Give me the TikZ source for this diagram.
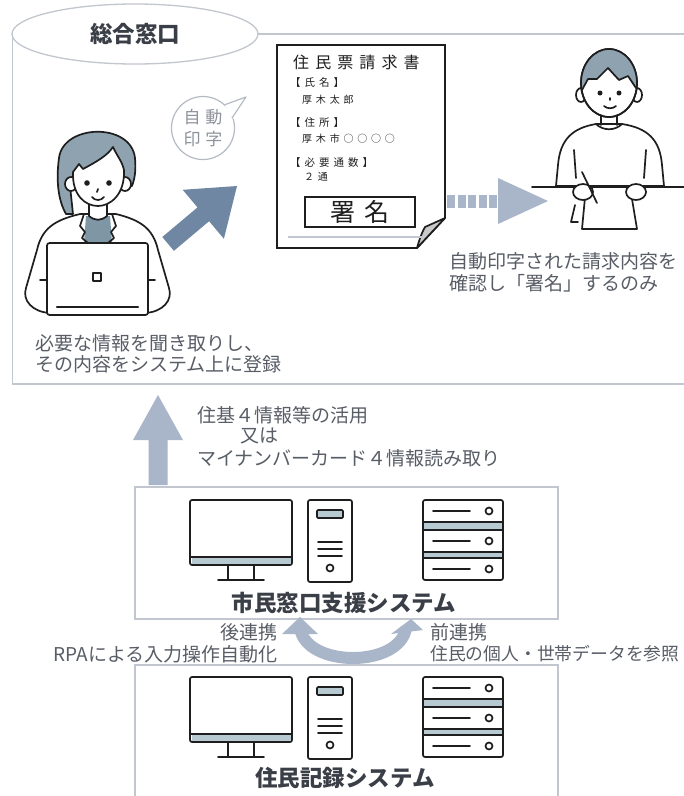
\documentclass[tikz,border=0pt]{standalone}
\usepackage{fontspec}
\setmainfont{Noto Sans CJK JP}
\newfontfamily\formfont[LetterSpace=38]{Noto Sans CJK JP}
\newfontfamily\bubblefont[LetterSpace=28]{Noto Sans CJK JP}
\usetikzlibrary{calc,shapes.geometric}

\definecolor{frame}{HTML}{C2C6CE}
\definecolor{txt}{HTML}{585D66}
\definecolor{labeltxt}{HTML}{3A3E46}
\definecolor{lightarrow}{HTML}{A9B5C9}
\definecolor{darkarrow}{HTML}{6F87A3}
\definecolor{hair}{HTML}{8EA2AF}
\definecolor{shirt}{HTML}{7F97A5}
\definecolor{band}{HTML}{B7CAD2}
\definecolor{bubble}{HTML}{B5BAC2}
\definecolor{bubbletxt}{HTML}{8C929B}
\definecolor{ink}{HTML}{1E1E1E}
\definecolor{flap}{HTML}{C9C9C9}

\tikzset{
  frameline/.style={draw=frame, line width=1.3},
  desc/.style={text=txt, font=\fontsize{19}{21.5}\selectfont, inner sep=0, align=left},
  syslabel/.style={text=labeltxt, font=\fontsize{22.5}{24}\selectfont\bfseries, inner sep=0},
  lineart/.style={draw=ink, line width=1.7, line join=round, line cap=round},
  formtext/.style={inner sep=0, anchor=west, text=ink},
  sysicons/.pic={
    % monitor
    \filldraw[lineart, fill=white, rounded corners=2] (0,0) rectangle (102,65);
    \fill[band] (1.5,57) rectangle (100.5,63.5);
    \draw[lineart] (0,57) -- (102,57);
    \draw[lineart] (38,65) -- (38,80) (64,65) -- (64,80) (28,80) -- (74,80);
    % tower
    \draw[lineart, rounded corners=2] (118,0) rectangle (162,82);
    \filldraw[lineart, fill=band, rounded corners=1] (127,10) rectangle (153,18);
    \draw[lineart] (128,42) -- (152,42) (128,49) -- (152,49) (128,56) -- (152,56);
    \draw[lineart] (140,68) circle (3.5);
    % server rack
    \draw[lineart, rounded corners=2] (233,0) rectangle (313,80);
    \filldraw[lineart, fill=band] (233,22) rectangle (313,30);
    \filldraw[lineart, fill=band] (233,52) rectangle (313,58);
    \foreach \yy in {11,41,69}{
      \draw[lineart] (243,\yy) -- (280,\yy);
      \draw[lineart] (299,\yy) circle (3.5);
    }
  }
}

\begin{document}
\begin{tikzpicture}[x=1pt, y=-1pt]
\useasboundingbox (0,0) rectangle (684,796);
\fill[white] (0,0) rectangle (684,796);

% ---------- counter panel ----------
\node[frameline, minimum width=690, minimum height=350, inner sep=0] (panel) at (357.5,209) {};
\node[frameline, fill=white, ellipse, minimum width=246, minimum height=60, inner sep=0] (title) at (135,34) {};
\node[syslabel] at (title) {総合窓口};

% ---------- clerk with laptop ----------
\filldraw[lineart, fill=white] (80,214) .. controls (55,220) and (42,228) .. (37,250) -- (26,288) .. controls (22,300) and (32,312) .. (50,313) -- (145,313) .. controls (163,312) and (173,300) .. (169,288) -- (158,250) .. controls (153,228) and (140,220) .. (116,214) -- cycle;
\fill[shirt] (86,216) -- (110,216) -- (112,243) -- (84,243) -- cycle;
\draw[lineart] (84,214) -- (80,226) -- (85,232) -- (82,238) -- (88,243);
\draw[lineart] (112,214) -- (116,226) -- (111,232) -- (114,238) -- (108,243);
\filldraw[lineart, fill=white] (89,203) -- (89,216) .. controls (95,221) and (101,221) .. (107,216) -- (107,203);
\filldraw[lineart, fill=hair] (66,214) .. controls (58,200) and (56,180) .. (59,158) .. controls (63,124) and (131,122) .. (135,158) .. controls (136,170) and (135,178) .. (132,186) -- (70,186) -- (73,214) -- cycle;
\filldraw[lineart, fill=white] (71,184) ellipse (6 and 7);
\filldraw[lineart, fill=white] (125,184) ellipse (6 and 7);
\filldraw[lineart, fill=white] (73,172) -- (79,164) -- (83,169) .. controls (96,162) and (107,156) .. (113,147) .. controls (117,156) and (122,161) .. (124,170) .. controls (125,195) and (110,206) .. (98,206) .. controls (85,206) and (72,195) .. (73,172) -- cycle;
\fill[ink] (87,183) circle (2.8) (109,183) circle (2.8);
\draw[lineart] (98,189) -- (97,192);
\draw[lineart] (92,197) .. controls (95,201) and (101,201) .. (104,197);
\filldraw[lineart, fill=white, rounded corners=2.5] (47,243) rectangle (148,315);
\draw[lineart] (93,273) rectangle (101,281);
\draw[lineart, line width=2.3] (57,307) -- (138,307);
\draw[lineart] (40,280) -- (47,280) (148,280) -- (155,280);

\node[desc, anchor=west] (clerknote) at (35,354) {必要な情報を聞き取りし、\\その内容をシステム上に登録};

% ---------- speech bubble ----------
\node[draw=bubble, line width=1.2, fill=white, ellipse, minimum width=63, minimum height=63, inner sep=0] (bubble) at (203,128) {};
\fill[white] (224,104) -- (246,97) -- (233,119) -- cycle;
\draw[bubble, line width=1.2, line join=round] (224,105) -- (246,97) -- (232,118);
\node[text=bubbletxt, inner sep=0, align=center, font=\bubblefont\fontsize{17}{22}\selectfont] at (bubble) {自動\\印字};

% ---------- forward arrow ----------
\coordinate (fwdtail) at (168,244);
\coordinate (fwdtip) at (237,186);
\fill[darkarrow] (162.3,237.0) -- (197.5,207.4) -- (182.7,189.8) -- (fwdtip) -- (223.9,238.8) -- (209.1,221.2) -- (173.9,250.8) -- cycle;

% ---------- request form ----------
\filldraw[lineart, fill=white, line join=miter] (277,45) -- (445,45) -- (445,218) -- (417,248) -- (277,248) -- cycle;
\filldraw[lineart, fill=flap] (445,218) -- (425,227) .. controls (421,234) and (419,241) .. (417,248) -- cycle;
\draw[frame, line width=1.2] (288,237) -- (423,237);
\node[formtext, font=\formfont\fontsize{16}{17}\selectfont] at (293,62) {住民票請求書};
\node[formtext, font=\formfont\fontsize{10.5}{11}\selectfont] at (290,83) {【氏名】};
\node[formtext, font=\formfont\fontsize{10}{11}\selectfont] at (302,100) {厚木太郎};
\node[formtext, font=\formfont\fontsize{10.5}{11}\selectfont] at (290,123) {【住所】};
\node[formtext, font=\formfont\fontsize{10}{11}\selectfont] at (302,139) {厚木市○○○○};
\node[formtext, font=\formfont\fontsize{10.5}{11}\selectfont] at (290,163) {【必要通数】};
\node[formtext, font=\formfont\fontsize{10}{11}\selectfont] at (304,177) {２通};
\node[draw=ink, line width=1.7, minimum width=110, minimum height=30, inner sep=0] (sign) at (360,212) {};
\node[inner sep=0, text=ink, font=\formfont\fontsize{25}{26}\selectfont] at (sign) {署名};

% ---------- hand-over arrow ----------
\coordinate (handtip) at (548,201);
\foreach \i in {0,...,4}{
  \fill[lightarrow] ({447+\i*10.5},195) rectangle ({455+\i*10.5},208);
}
\fill[lightarrow] (498,178) -- (handtip) -- (498,224) -- cycle;

% ---------- resident signing ----------
\filldraw[lineart, fill=white] (596,124) .. controls (572,128) and (560,140) .. (558,165) -- (556,186) -- (664,186) -- (662,165) .. controls (660,140) and (648,128) .. (622,124) -- cycle;
\draw[lineart] (574,150) -- (576,178) (646,150) -- (644,178);
\draw[lineart] (596,124) .. controls (603,131) and (615,131) .. (622,124);
\draw[lineart] (601,113) -- (601,125) (617,113) -- (617,125);
\filldraw[lineart, fill=white] (581,95) ellipse (5 and 7) (637,95) ellipse (5 and 7);
\filldraw[lineart, fill=white] (609,83) ellipse (28 and 34);
\begin{scope}
  \clip (609,83) ellipse (28 and 34);
  \fill[hair] (575,45) -- (645,45) -- (645,90) -- (634,86) -- (628,76) -- (619,80) -- (608,68) -- (597,79) -- (588,79) -- (581,92) -- (575,92) -- cycle;
\end{scope}
\draw[lineart] (582,90) -- (588,79) -- (597,79) -- (608,68) -- (619,80) -- (628,76) -- (636,88);
\draw[lineart] (609,83) ellipse (28 and 34);
\fill[ink] (600,93) circle (2.5) (619,93) circle (2.5);
\draw[lineart] (610,98) -- (610,100);
\draw[lineart] (604,106) .. controls (607,109) and (613,109) .. (616,106);
\draw[lineart] (532,187) -- (684,187);
\filldraw[lineart, fill=white] (586,187) -- (630,187) -- (637,229) -- (582,229) -- cycle;
\filldraw[lineart, fill=white] (583,192) ellipse (10 and 8);
\filldraw[lineart, fill=white] (636,192) ellipse (10 and 8);
\draw[lineart] (582,172) -- (597,203);
\draw[lineart] (575,205) -- (571,222) -- (578,222);

\node[desc, anchor=west] (signnote) at (449,272.5) {自動印字された請求内容を\\確認し「署名」するのみ};

% ---------- support system ----------
\node[frameline, minimum width=423, minimum height=132, inner sep=0] (support) at (346.5,553) {};
\pic at (190,500) {sysicons};
\node[syslabel] (supportlabel) at (344,603) {市民窓口支援システム};

% ---------- data flow to the counter ----------
\coordinate (upbase) at (158,485);
\coordinate (uptip) at (158,395);
\fill[lightarrow] (148.5,485) -- (148.5,440) -- (133,440) -- (uptip) -- (183,440) -- (167.5,440) -- (167.5,485) -- cycle;
\node[desc, anchor=west] (flow1) at (197,415) {住基４情報等の活用};
\node[desc, anchor=west] (flow2) at (240,436) {又は};
\node[desc, anchor=west] (flow3) at (197,458) {マイナンバーカード４情報読み取り};

% ---------- resident register ----------
\node[frameline, minimum width=423, minimum height=135, inner sep=0] (register) at (346.5,732.5) {};
\pic at (190,677) {sysicons};
\node[syslabel] (registerlabel) at (345,778) {住民記録システム};

% ---------- two-way link ----------
\coordinate (lefttip) at (300,617);
\coordinate (righttip) at (411,619);
\draw[lightarrow, line width=12] (300,628) .. controls (306,668) and (400,668) .. (406,628);
\fill[lightarrow] (lefttip) -- (318,634) -- (282,634) -- cycle;
\fill[lightarrow] (righttip) -- (423,630) -- (391,634) -- cycle;
\node[desc, anchor=east] (backlink1) at (278,632) {後連携};
\node[desc, anchor=east] (backlink2) at (278,654) {RPAによる入力操作自動化};
\node[desc, anchor=west] (frontlink1) at (430,632) {前連携};
\node[desc, anchor=west, font=\fontsize{17.8}{21.5}\selectfont] (frontlink2) at (430,654) {住民の個人・世帯データを参照};
\end{tikzpicture}
\end{document}
